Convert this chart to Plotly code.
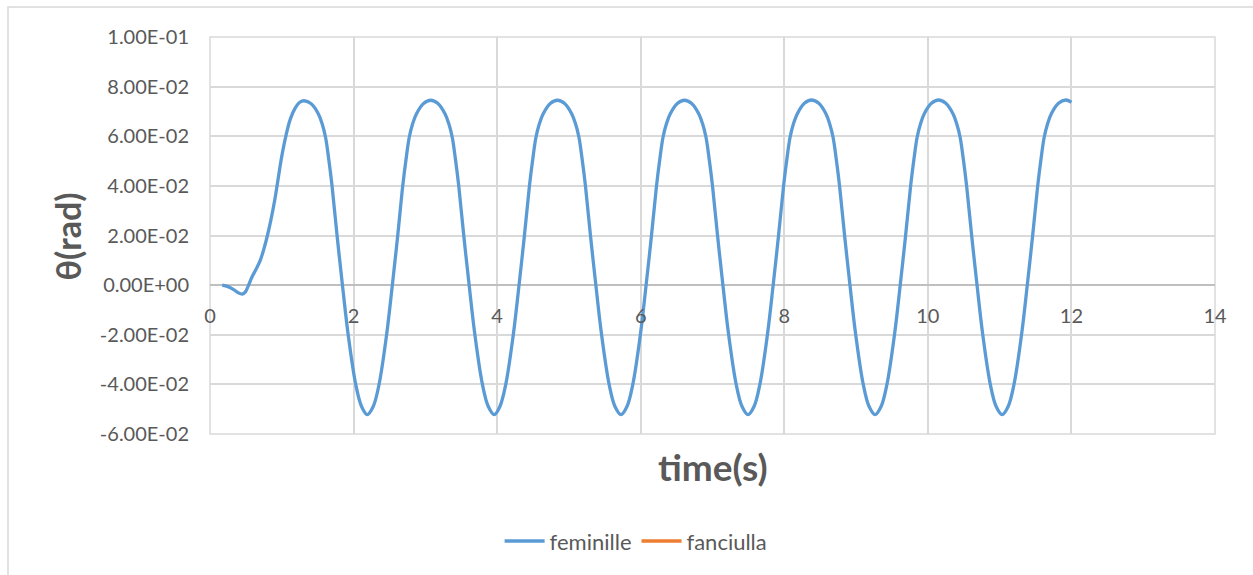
import plotly.graph_objects as go

# Pendulum angle time series (s, rad)
time_s = [
    # start-up
    0.17, 0.25, 0.33, 0.40, 0.45, 0.49, 0.53, 0.58, 0.64, 0.70,
    0.75, 0.80, 0.85, 0.90, 0.95, 1.00, 1.06, 1.12, 1.19, 1.25,
    # cycle 1
    1.31, 1.41, 1.51, 1.56, 1.61, 1.655, 1.70, 1.77, 1.845, 1.925, 2.03, 2.11,
    2.19, 2.275, 2.355, 2.46, 2.54, 2.615, 2.685, 2.73, 2.775, 2.825, 2.875, 2.975,
    # cycle 2
    3.075, 3.175, 3.275, 3.325, 3.375, 3.42, 3.465, 3.535, 3.61, 3.69, 3.795, 3.875,
    3.96, 4.04, 4.12, 4.225, 4.305, 4.38, 4.45, 4.495, 4.54, 4.59, 4.64, 4.74,
    # cycle 3
    4.84, 4.94, 5.04, 5.09, 5.14, 5.185, 5.23, 5.30, 5.375, 5.455, 5.56, 5.64,
    5.725, 5.81, 5.89, 5.995, 6.075, 6.15, 6.22, 6.265, 6.31, 6.36, 6.41, 6.51,
    # cycle 4
    6.61, 6.71, 6.81, 6.86, 6.91, 6.955, 7.00, 7.07, 7.145, 7.225, 7.33, 7.41,
    7.495, 7.58, 7.66, 7.765, 7.845, 7.92, 7.99, 8.035, 8.08, 8.13, 8.18, 8.28,
    # cycle 5
    8.38, 8.48, 8.58, 8.63, 8.68, 8.725, 8.77, 8.84, 8.915, 8.995, 9.10, 9.18,
    9.265, 9.35, 9.43, 9.535, 9.615, 9.69, 9.76, 9.805, 9.85, 9.90, 9.95, 10.05,
    # cycle 6
    10.15, 10.25, 10.35, 10.40, 10.45, 10.495, 10.54, 10.61, 10.685, 10.765, 10.87, 10.95,
    11.035, 11.12, 11.20, 11.305, 11.385, 11.46, 11.53, 11.575, 11.62, 11.67, 11.72, 11.82,
    # last peak
    11.92, 12.00,
]

theta_feminille = [
    0.0000, -0.0006, -0.0018, -0.0032, -0.0036, -0.0028, -0.0005, 0.0030, 0.0063, 0.0100,
    0.0145, 0.0200, 0.0265, 0.0340, 0.0430, 0.0520, 0.0605, 0.0670, 0.0715, 0.0737,
    0.0743, 0.0731, 0.0690, 0.0652, 0.0595, 0.0505, 0.0400, 0.0200, 0.0000, -0.0200, -0.0400, -0.0488,
    -0.0522, -0.0488, -0.0400, -0.0200, 0.0000, 0.0200, 0.0400, 0.0505, 0.0595, 0.0652, 0.0690, 0.0732,
    0.0745, 0.0732, 0.0690, 0.0652, 0.0595, 0.0505, 0.0400, 0.0200, 0.0000, -0.0200, -0.0400, -0.0488,
    -0.0522, -0.0488, -0.0400, -0.0200, 0.0000, 0.0200, 0.0400, 0.0505, 0.0595, 0.0652, 0.0690, 0.0732,
    0.0745, 0.0732, 0.0690, 0.0652, 0.0595, 0.0505, 0.0400, 0.0200, 0.0000, -0.0200, -0.0400, -0.0488,
    -0.0522, -0.0488, -0.0400, -0.0200, 0.0000, 0.0200, 0.0400, 0.0505, 0.0595, 0.0652, 0.0690, 0.0732,
    0.0745, 0.0732, 0.0690, 0.0652, 0.0595, 0.0505, 0.0400, 0.0200, 0.0000, -0.0200, -0.0400, -0.0488,
    -0.0522, -0.0488, -0.0400, -0.0200, 0.0000, 0.0200, 0.0400, 0.0505, 0.0595, 0.0652, 0.0690, 0.0733,
    0.0746, 0.0733, 0.0691, 0.0652, 0.0595, 0.0505, 0.0400, 0.0200, 0.0000, -0.0200, -0.0400, -0.0488,
    -0.0522, -0.0488, -0.0400, -0.0200, 0.0000, 0.0200, 0.0400, 0.0505, 0.0595, 0.0652, 0.0691, 0.0733,
    0.0746, 0.0733, 0.0691, 0.0652, 0.0595, 0.0505, 0.0400, 0.0200, 0.0000, -0.0200, -0.0400, -0.0488,
    -0.0522, -0.0488, -0.0400, -0.0200, 0.0000, 0.0200, 0.0400, 0.0505, 0.0595, 0.0652, 0.0691, 0.0733,
    0.0746, 0.0737,
]

# second series has no recorded values
time_fanciulla = [None]
theta_fanciulla = [None]

y_tick_vals = [-0.06, -0.04, -0.02, 0.0, 0.02, 0.04, 0.06, 0.08, 0.10]
y_tick_text = ["-6.00E-02", "-4.00E-02", "-2.00E-02", "0.00E+00", "2.00E-02",
               "4.00E-02", "6.00E-02", "8.00E-02", "1.00E-01"]
x_tick_vals = [0, 2, 4, 6, 8, 10, 12, 14]
x_tick_text = ["0", "2", "4", "6", "8", "10", "12", "14"]

GRID = "#D9D9D9"
TEXT = "#595959"
FONT = "Lato"

fig = go.Figure()
fig.add_trace(go.Scatter(
    x=time_s, y=theta_feminille, mode="lines", name="feminille",
    line=dict(color="#5B9BD5", width=3.3, shape="spline", smoothing=1.0),
))
fig.add_trace(go.Scatter(
    x=time_fanciulla, y=theta_fanciulla, mode="lines", name="fanciulla",
    line=dict(color="#ED7D31", width=3.3),
))

# paper position of y = 0, where the time axis labels sit
y_lo, y_hi = -0.06, 0.10
zero_pos = (0 - y_lo) / (y_hi - y_lo)

fig.update_layout(
    width=1253, height=575,
    margin=dict(l=210, r=38, t=37, b=141),
    paper_bgcolor="white", plot_bgcolor="white",
    font=dict(family=FONT, size=20, color=TEXT),
    showlegend=True,
    legend=dict(
        orientation="h", x=0.424, xanchor="center", y=-0.27, yanchor="middle",
        font=dict(family=FONT, size=22, color=TEXT),
        itemwidth=40, tracegroupgap=0,
    ),
    xaxis=dict(
        range=[0, 14], tickvals=x_tick_vals, ticktext=x_tick_text,
        showgrid=True, gridcolor=GRID, gridwidth=1.5,
        zeroline=False, showline=False, ticks="",
        anchor="free", position=zero_pos,
        tickfont=dict(family=FONT, size=20, color=TEXT),
        ticklabelstandoff=17,
    ),
    yaxis=dict(
        range=[y_lo, y_hi], tickvals=y_tick_vals, ticktext=y_tick_text,
        showgrid=True, gridcolor=GRID, gridwidth=1.5,
        zeroline=True, zerolinecolor="#BFBFBF", zerolinewidth=1.5,
        showline=False, ticks="",
        tickfont=dict(family=FONT, size=20, color=TEXT),
        ticklabelstandoff=20,
    ),
    shapes=[
        # plot area frame
        dict(type="rect", xref="paper", yref="paper", x0=0, x1=1, y0=0, y1=1,
             line=dict(color=GRID, width=1.5), layer="below"),
        # chart area frame
        dict(type="rect", xref="paper", yref="paper",
             x0=-0.201, x1=1.06, y0=-0.40, y1=1.0756,
             line=dict(color=GRID, width=1.5), layer="below"),
    ],
    annotations=[
        dict(text="<b>time(s)</b>", xref="paper", yref="paper",
             x=0.5, y=(434 - 466) / 397, xanchor="center", yanchor="middle",
             showarrow=False, font=dict(family=FONT, size=37, color=TEXT)),
        dict(text="<b>θ(rad)</b>", xref="paper", yref="paper",
             x=(66.5 - 210) / 1005, y=(434 - 237) / 397, xanchor="center", yanchor="middle",
             textangle=-90, showarrow=False, font=dict(family=FONT, size=34, color=TEXT)),
    ],
)

fig.write_html("out.html")
